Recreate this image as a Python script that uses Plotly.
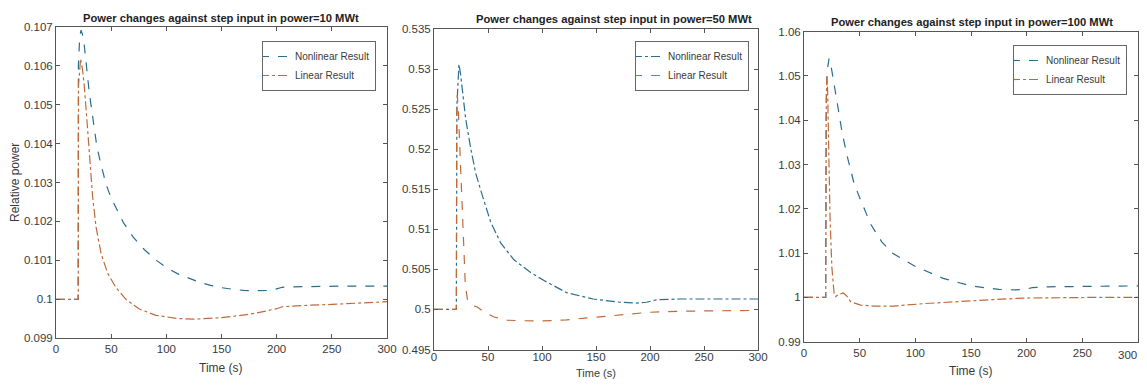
import plotly.graph_objects as go

# ---------------- data ----------------
t1_nl = [0, 20, 20.3, 21.5, 22.7, 24, 25.5, 27.2, 28.7, 30.2, 33.2, 36.9, 40, 45.4, 50, 55, 61.1, 70, 80,
         91, 100, 110, 120, 130, 140, 150, 160, 170, 180, 190, 195, 200, 205, 210, 230, 260, 300]
v1_nl = [0.1, 0.1, 0.1060, 0.10675, 0.10691, 0.1068, 0.10655, 0.10610, 0.1057, 0.1053, 0.1047, 0.10395,
         0.10355, 0.10295, 0.1026, 0.10230, 0.10197, 0.10160, 0.10128, 0.10100, 0.10082, 0.10066, 0.10054,
         0.10044, 0.10036, 0.10030, 0.10026, 0.10023, 0.10022, 0.10022, 0.10023, 0.10027, 0.10031, 0.10032,
         0.10033, 0.10034, 0.10034]

t1_l = [0, 20.2, 20.4, 21.5, 22.3, 24, 25.7, 27.8, 30.2, 33.2, 36.3, 40.8, 46.8, 54.4, 63.4, 75.5, 90.6,
        100, 110, 125, 135, 150, 165, 180, 190, 200, 205, 215, 230, 250, 275, 300]
v1_l = [0.1, 0.1, 0.1055, 0.10606, 0.10618, 0.1059, 0.10546, 0.10469, 0.10375, 0.10263, 0.10186, 0.10118,
        0.10067, 0.10030, 0.10000, 0.09975, 0.09959, 0.09955, 0.09951, 0.09949, 0.09950, 0.09953, 0.09958,
        0.09964, 0.09970, 0.09976, 0.09981, 0.09983, 0.09985, 0.09987, 0.09990, 0.09994]

t2_nl = [0, 20.7, 21.2, 22.2, 23.1, 24.5, 26.2, 29.3, 34, 38.6, 44.8, 52.5, 61.7, 74, 89.5, 101.9, 122.7,
         147.4, 172, 187.5, 196.7, 206, 227.6, 260, 300]
v2_nl = [0.5, 0.5, 0.5255, 0.5295, 0.5306, 0.5295, 0.5275, 0.5238, 0.5201, 0.5170, 0.5142, 0.5109, 0.5083,
         0.5062, 0.5046, 0.5036, 0.5021, 0.5013, 0.5009, 0.5008, 0.5009, 0.5012, 0.5013, 0.5013, 0.5013]

t2_l = [0, 20.7, 21.0, 21.6, 22.5, 24.7, 27.2, 29.0, 30.9, 35.5, 40.1, 46.3, 55.6, 67.9, 80.2, 98,
        122.7, 147.4, 172, 199.8, 227.6, 260, 300]
v2_l = [0.5, 0.5, 0.5240, 0.5267, 0.5250, 0.5173, 0.5070, 0.5030, 0.5013, 0.5005, 0.5003, 0.49967,
        0.49906, 0.49865, 0.4986, 0.49855, 0.4987, 0.4990, 0.49932, 0.49965, 0.49978, 0.49985, 0.49988]

t3_nl = [0, 19.5, 20.0, 21.0, 22.5, 23.5, 25.4, 29.9, 34.4, 38.9, 44.9, 50, 60, 70, 80, 100, 125, 150,
         175, 190, 200, 205, 220, 260, 300]
v3_nl = [1.0, 1.0, 1.045, 1.0515, 1.0539, 1.0535, 1.0506, 1.0440, 1.0370, 1.0318, 1.0258, 1.0225, 1.0165,
         1.0125, 1.0099, 1.0070, 1.0043, 1.0026, 1.0018, 1.0017, 1.0019, 1.0022, 1.0024, 1.0025, 1.0026]

t3_l = [0, 19.5, 19.9, 20.4, 21.2, 22.4, 23.4, 25.0, 27.0, 28.4, 31.4, 35.3, 38.5, 41.9, 47.9, 50.9, 62.9,
        80.8, 107.7, 137.6, 167.5, 197.4, 227, 260, 300]
v3_l = [1.0, 1.0, 1.040, 1.0498, 1.0470, 1.0296, 1.0180, 1.0069, 1.0010, 1.0002, 1.0007, 1.0010, 1.0003,
        0.99902, 0.99860, 0.99827, 0.99804, 0.99804, 0.9986, 0.9991, 0.99947, 0.99985, 1.0, 1.0, 1.0]

x_ticks = [0, 50, 100, 150, 200, 250, 300]
x_text = ["0", "50", "100", "150", "200", "250", "300"]
y1_ticks = [0.099, 0.1, 0.101, 0.102, 0.103, 0.104, 0.105, 0.106, 0.107]
y1_text = ["0.099", "0.1", "0.101", "0.102", "0.103", "0.104", "0.105", "0.106", "0.107"]
y2_ticks = [0.495, 0.5, 0.505, 0.51, 0.515, 0.52, 0.525, 0.53, 0.535]
y2_text = ["0.495", "0.5", "0.505", "0.51", "0.515", "0.52", "0.525", "0.53", "0.535"]
y3_ticks = [0.99, 1.0, 1.01, 1.02, 1.03, 1.04, 1.05, 1.06]
y3_text = ["0.99", "1", "1.01", "1.02", "1.03", "1.04", "1.05", "1.06"]

titles = ["Power changes against step input in power=10 MWt",
          "Power changes against step input in power=50 MWt",
          "Power changes against step input in power=100 MWt"]
names = ["Nonlinear Result", "Linear Result"]
x_title = "Time (s)"
y_title = "Relative power"

# ---------------- styling ----------------
# the page body has an 8px margin on every side; size the figure so the page never overflows
OFF = 8
W, H = 1147 - 2 * OFF, 387 - 2 * OFF
BLUE = "#2a6d8f"
ORANGE = "#c06a38"
AXC = "#555555"
TXT = "#3a3a3a"
FONT = "Liberation Sans, Arial, sans-serif"


def fx(px):
    return (px - OFF) / W


def fy(py):
    return 1 - (py - OFF) / H


# panel boxes in window pixels: (left, right, top, bottom)
boxes = [(56, 387, 26.7, 338.3), (434, 758, 29, 349.5), (804, 1138, 31.7, 341.7)]
title_pos = [(221, 18), (614, 19), (972, 22)]
xtitle_pos = [(221, 368), (596, 372.5), (971, 371)]
xtitle_size = [12, 11, 12]
xlabel_standoff = [0, -3, 0]
legend_pos = [(376, 41), (749, 41), (1127, 45)]

fig = go.Figure()

series = [
    (t1_nl, v1_nl, "dash", t1_l, v1_l, "dashdot"),
    (t2_nl, v2_nl, "dashdot", t2_l, v2_l, "dash"),
    (t3_nl, v3_nl, "dash", t3_l, v3_l, "dashdot"),
]
legend_ids = ["legend", "legend2", "legend3"]
for i, (tn, vn, dn, tl, vl, dl) in enumerate(series):
    ax = "" if i == 0 else str(i + 1)
    fig.add_trace(go.Scatter(x=tn, y=vn, mode="lines", name=names[0],
                             line=dict(color=BLUE, width=1.2, dash=dn),
                             xaxis="x" + ax, yaxis="y" + ax, legend=legend_ids[i]))
    fig.add_trace(go.Scatter(x=tl, y=vl, mode="lines", name=names[1],
                             line=dict(color=ORANGE, width=1.2, dash=dl),
                             xaxis="x" + ax, yaxis="y" + ax, legend=legend_ids[i]))

ytick_sets = [(y1_ticks, y1_text), (y2_ticks, y2_text), (y3_ticks, y3_text)]
layout = dict(width=W, height=H, margin=dict(l=0, r=0, t=0, b=0, autoexpand=False),
              paper_bgcolor="white", plot_bgcolor="white",
              font=dict(family=FONT, size=11.5, color=TXT), annotations=[])

for i, (l, r, tp, bt) in enumerate(boxes):
    ax = "" if i == 0 else str(i + 1)
    xd = [fx(l), min(fx(r), 1.0)]
    yd = [fy(bt), fy(tp)]
    yt, ytt = ytick_sets[i]
    xt = list(x_text)
    if i == 2:
        # the last label of the right panel is written right-aligned at the window edge below
        xt[-1] = ""
    layout["xaxis" + ax] = dict(
        domain=xd, anchor="y" + ax, range=[0, 300], tickvals=x_ticks, ticktext=xt,
        automargin=False, ticklabelstandoff=xlabel_standoff[i],
        showgrid=False, zeroline=False, showline=True, linecolor=AXC, linewidth=1,
        mirror="ticks", ticks="inside", ticklen=4, tickcolor=AXC,
        ticklabeloverflow="allow", tickfont=dict(size=11.5, color=TXT))
    layout["yaxis" + ax] = dict(
        domain=yd, anchor="x" + ax, range=[yt[0], yt[-1]], tickvals=yt, ticktext=ytt,
        automargin=False, ticklabeloverflow="allow",
        showgrid=False, zeroline=False, showline=True, linecolor=AXC, linewidth=1,
        mirror="ticks", ticks="inside", ticklen=4, tickcolor=AXC,
        tickfont=dict(size=11.5, color=TXT))
    tx, ty = title_pos[i]
    layout["annotations"].append(dict(
        text="<b>" + titles[i] + "</b>", x=fx(tx), y=fy(ty), xref="paper", yref="paper",
        xanchor="center", yanchor="middle", showarrow=False,
        font=dict(size=11.2, color="#222222", family=FONT)))
    xx, xy = xtitle_pos[i]
    layout["annotations"].append(dict(
        text=x_title, x=fx(xx), y=fy(xy), xref="paper", yref="paper",
        xanchor="center", yanchor="middle", showarrow=False,
        font=dict(size=xtitle_size[i], color=TXT, family=FONT)))
    lx, ly = legend_pos[i]
    layout[legend_ids[i]] = dict(
        x=fx(lx), y=fy(ly), xanchor="right", yanchor="top",
        bgcolor="white", bordercolor="#666666", borderwidth=1,
        font=dict(size=10, color=TXT, family=FONT), tracegroupgap=0,
        itemwidth=30, indentation=-8)

# last x tick label of the right panel, kept inside the window
layout["annotations"].append(dict(
    text=x_text[-1], x=300, xref="x3", y=fy(355), yref="paper",
    xanchor="right", yanchor="middle", showarrow=False, borderpad=0,
    font=dict(size=11.5, color=TXT, family=FONT)))

layout["annotations"].append(dict(
    text=y_title, x=fx(15), y=fy(183), xref="paper", yref="paper", textangle=-90,
    xanchor="center", yanchor="middle", showarrow=False,
    font=dict(size=12, color=TXT, family=FONT)))

fig.update_layout(**layout)
fig.write_html("out.html")
